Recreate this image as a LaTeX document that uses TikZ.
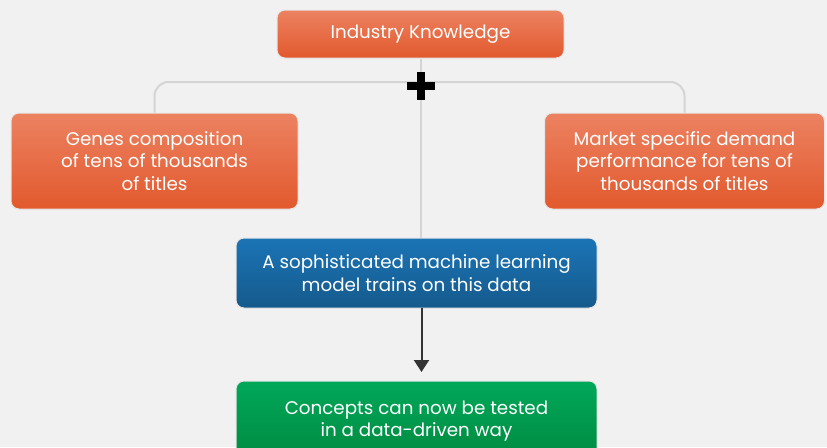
\documentclass[tikz,border=0pt]{standalone}
\usepackage{fontspec}
\setmainfont{Poppins}
\usetikzlibrary{arrows.meta}
\definecolor{bg}{HTML}{F1F1F1}
\definecolor{orTop}{HTML}{EC8261}
\definecolor{orBot}{HTML}{E2592D}
\definecolor{blTop}{HTML}{1B74B6}
\definecolor{blBot}{HTML}{155A8C}
\definecolor{grTop}{HTML}{00A85A}
\definecolor{grBot}{HTML}{008A40}
\definecolor{linkgray}{HTML}{D4D4D4}
\definecolor{arrowgray}{HTML}{333333}
\definecolor{rim}{HTML}{E6E6E6}
\tikzset{
  card/.style={rounded corners=8pt, draw=rim, line width=1pt, text=white,
    align=center, font=\fontsize{18.3}{22.5}\selectfont, inner sep=0pt},
  orangecard/.style={card, top color=orTop, bottom color=orBot},
  bluecard/.style={card, top color=blTop, bottom color=blBot},
  greencard/.style={card, top color=grTop, bottom color=grBot},
  link/.style={draw=linkgray, line width=2pt},
  flow/.style={draw=arrowgray, line width=2pt,
    -{Triangle[width=15pt,length=12pt]}},
  plusbar/.style={line width=7.5pt, black}
}
\begin{document}
\begin{tikzpicture}[x=1pt,y=-1pt]
  \fill[bg] (0,0) rectangle (827,447);
  \useasboundingbox (0,0) rectangle (827,447);

  % boxes
  \node[orangecard, minimum width=287pt, minimum height=48pt] (ik) at (420.5,34) {Industry Knowledge};
  \node[orangecard, minimum width=287pt, minimum height=96pt] (genes) at (154.5,161)
    {Genes composition\\of tens of thousands\\of titles};
  \node[orangecard, minimum width=280pt, minimum height=96pt] (market) at (684.5,161)
    {Market specific demand\\performance for tens of\\thousands of titles};

  % connectors behind the lower boxes
  \coordinate (bar) at (420.5,82);
  \draw[link, rounded corners=14pt] (genes.north) |- (bar) -| (market.north);
  \coordinate (spineEnd) at (420.5,238);
  \draw[link] (ik.south) -- (spineEnd);

  \node[bluecard, minimum width=361pt, minimum height=70pt] (ml) at (416.5,273)
    {A sophisticated machine learning\\model trains on this data};
  \node[greencard, minimum width=361pt, minimum height=80pt] (test) at (416.5,421)
    {Concepts can now be tested\\in a data-driven way};

  % plus sign
  \node[inner sep=0pt, minimum width=28pt, minimum height=27pt] (plus) at (421,86) {};
  \draw[plusbar] (plus.west) -- (plus.east);
  \draw[plusbar] (plus.north) -- (plus.south);

  % arrow to the result
  \coordinate (mlout) at (421.5,308);
  \coordinate (testin) at (421.5,372);
  \draw[flow] (mlout) -- (testin);
\end{tikzpicture}
\end{document}
